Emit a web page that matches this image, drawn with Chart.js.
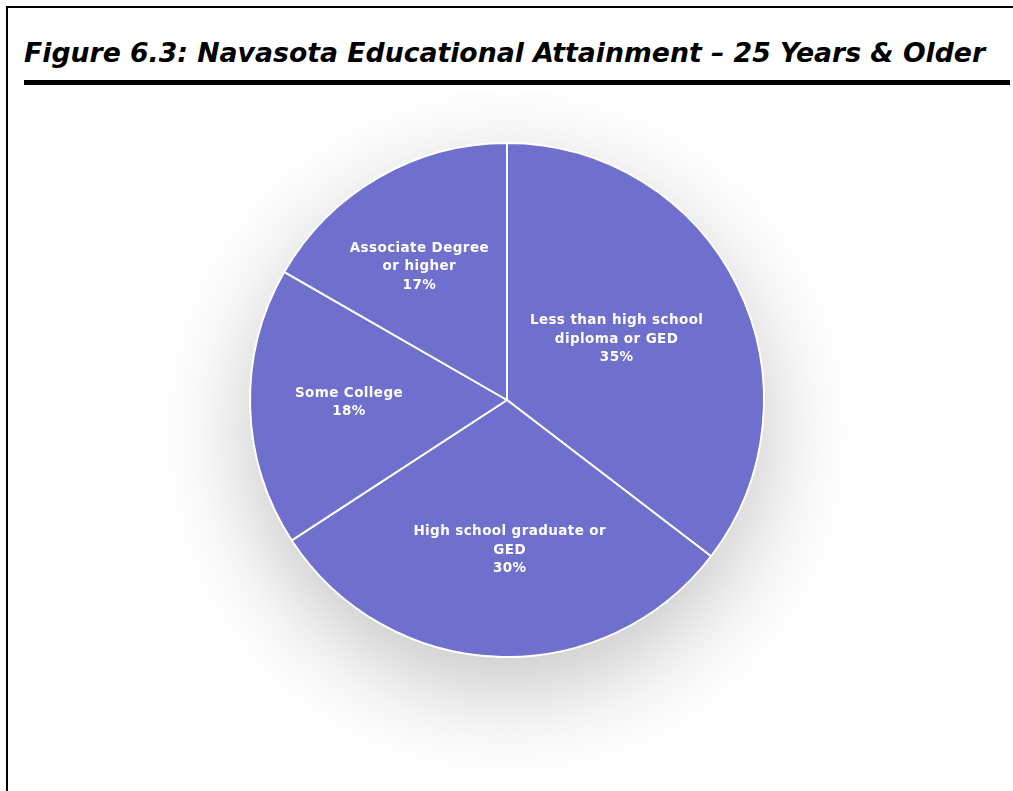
<!DOCTYPE html>
<html>
<head>
<meta charset="utf-8">
<script src="https://cdn.jsdelivr.net/npm/chart.js@4.4.1/dist/chart.umd.min.js"></script>
<style>
  html, body { margin: 0; padding: 0; background: #fff; }
  body { width: 1013px; height: 791px; position: relative; overflow: hidden; }
  .frame-top  { position: absolute; left: 6px; top: 6px; width: 1007px; height: 2px; background: #000; }
  .frame-left { position: absolute; left: 6px; top: 6px; width: 2px; height: 785px; background: #000; }
  .title {
    position: absolute; left: 24px; top: 37px; margin: 0;
    font-family: "DejaVu Sans", Verdana, sans-serif;
    font-weight: bold; font-style: italic; font-size: 26.7px;
    line-height: 32px; white-space: nowrap; color: #000;
  }
  .rule { position: absolute; left: 24px; top: 80px; width: 986px; height: 5px; background: #000; }
  .chart-box { position: absolute; left: 8px; top: 90px; width: 1005px; height: 701px; }
</style>
</head>
<body>
<div class="frame-top"></div>
<div class="frame-left"></div>
<h1 class="title">Figure 6.3: Navasota Educational Attainment – 25 Years &amp; Older</h1>
<div class="rule"></div>
<div class="chart-box"><canvas id="pieChart"></canvas></div>

<script>
// ── data ──────────────────────────────────────────
const categories = [
  ['Less than high school', 'diploma or GED'],
  ['High school graduate or', 'GED'],
  ['Some College'],
  ['Associate Degree', 'or higher'],
];
const shares = [35.4, 30.4, 17.5, 16.7];   // percent of population 25+

const SLICE_COLOR = '#6F6FCE';

// soft grey shadow under the whole pie
const pieShadow = {
  id: 'pieShadow',
  beforeDraw(chart) {
    const arc = chart.getDatasetMeta(0).data[0];
    if (!arc) return;
    const { x, y, outerRadius } = arc.getProps(['x', 'y', 'outerRadius'], true);
    const ctx = chart.ctx;
    ctx.save();
    ctx.shadowColor = 'rgba(0,0,0,0.24)';
    ctx.shadowBlur = 100;
    ctx.shadowOffsetY = 32;
    ctx.fillStyle = SLICE_COLOR;
    ctx.beginPath();
    ctx.arc(x, y, outerRadius, 0, Math.PI * 2);
    ctx.fill();
    ctx.restore();
  }
};

// white labels inside each slice: name + percent
const sliceLabels = {
  id: 'sliceLabels',
  afterDatasetsDraw(chart, args, opts) {
    const ctx = chart.ctx;
    const meta = chart.getDatasetMeta(0);
    const total = shares.reduce((a, b) => a + b, 0);
    ctx.save();
    ctx.fillStyle = '#fff';
    ctx.font = 'bold 13.5px "DejaVu Sans", Verdana, sans-serif';
    ctx.textAlign = 'center';
    ctx.textBaseline = 'middle';
    if ('letterSpacing' in ctx) ctx.letterSpacing = '0.4px';
    meta.data.forEach((arc, i) => {
      const p = arc.getProps(['x', 'y', 'startAngle', 'endAngle', 'outerRadius'], true);
      const mid = (p.startAngle + p.endAngle) / 2 + opts.nudge[i] * Math.PI / 180;
      const r = p.outerRadius * opts.radius[i];
      const cx = p.x + Math.cos(mid) * r;
      const cy = p.y + Math.sin(mid) * r;
      const pct = Math.round(shares[i] / total * 100) + '%';
      const lines = [...categories[i], pct];
      const lh = 18.5;
      const top = cy - (lines.length - 1) * lh / 2;
      lines.forEach((t, k) => ctx.fillText(t, cx, top + k * lh));
    });
    ctx.restore();
  }
};

new Chart(document.getElementById('pieChart'), {
  type: 'pie',
  data: {
    labels: categories,
    datasets: [{
      data: shares,
      backgroundColor: SLICE_COLOR,
      borderColor: '#ffffff',
      borderWidth: 2,
    }]
  },
  options: {
    responsive: true,
    maintainAspectRatio: false,
    animation: false,
    rotation: 0,
    layout: { padding: { left: 200, right: 207, top: 52, bottom: 133 } },
    plugins: {
      legend: { display: false },
      tooltip: { enabled: false },
      sliceLabels: {
        radius: [0.488, 0.584, 0.615, 0.62],
        nudge: [-2.8, -3.2, 0.7, -3.3],
      },
    }
  },
  plugins: [pieShadow, sliceLabels]
});
</script>
</body>
</html>
